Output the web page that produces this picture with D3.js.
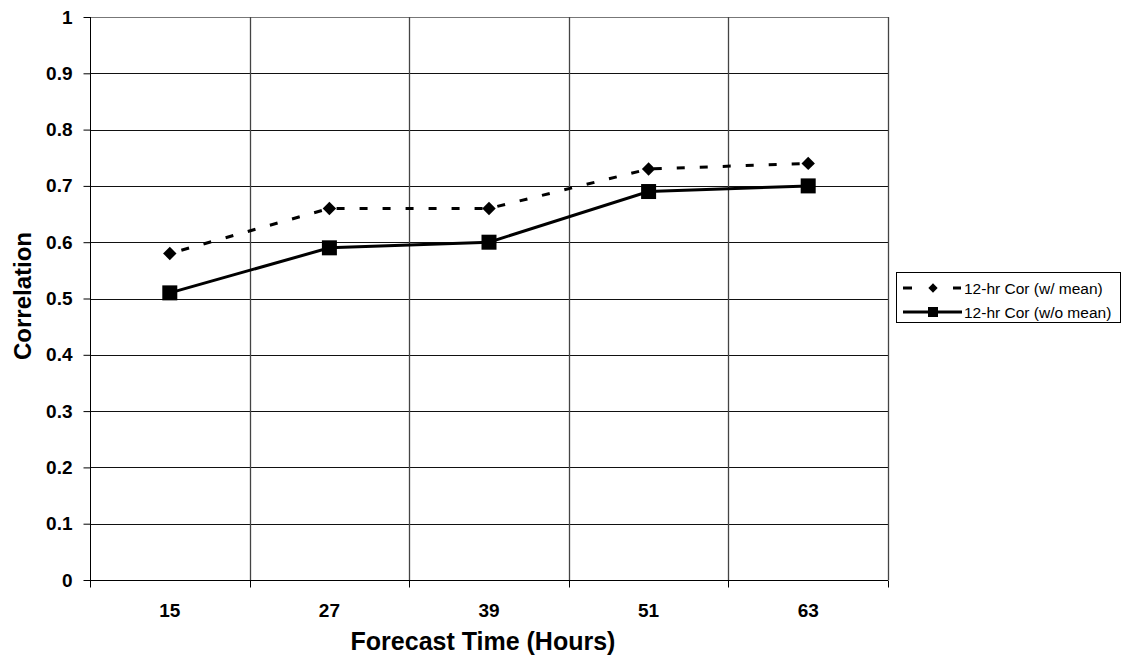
<!DOCTYPE html>
<html><head><meta charset="utf-8">
<script src="https://cdn.jsdelivr.net/npm/d3@7"></script>
<style>body{margin:0;background:#fff}svg{display:block}</style>
</head><body>
<svg id="c" width="1123" height="667"></svg>
<script>
const categories = ["15","27","39","51","63"];
const withMean = [0.58,0.66,0.66,0.73,0.74];
const withoutMean = [0.51,0.59,0.60,0.69,0.70];
const yTicks = [0,0.1,0.2,0.3,0.4,0.5,0.6,0.7,0.8,0.9,1];
const seriesNames = ["12-hr Cor (w/ mean)","12-hr Cor (w/o mean)"];

const svg = d3.select("#c");
const L=90, R=888, T=17, B=580;
const x = d3.scaleBand().domain(categories).range([L,R]).padding(0);
const y = d3.scaleLinear().domain([0,1]).range([B,T]);
const font = "Arial, 'Liberation Sans', sans-serif";

// horizontal gridlines
svg.append("g").selectAll("line").data(yTicks.filter(d=>d>0)).join("line")
  .attr("x1",L).attr("x2",R).attr("y1",d=>Math.round(y(d))+0.5).attr("y2",d=>Math.round(y(d))+0.5)
  .attr("stroke",d=>d===1?"#777":"#111").attr("stroke-width",1);
// vertical gridlines at band boundaries
const bounds = categories.map(c=>x(c)).concat([R]);
svg.append("g").selectAll("line").data(bounds.slice(1)).join("line")
  .attr("x1",d=>Math.round(d)+0.5).attr("x2",d=>Math.round(d)+0.5).attr("y1",T).attr("y2",B)
  .attr("stroke","#444").attr("stroke-width",1.3);

// y axis
const yAxis = svg.append("g").attr("transform",`translate(${L+0.5},0)`)
  .call(d3.axisLeft(y).tickValues(yTicks).tickSize(7).tickPadding(11).tickFormat(d=>String(+d.toFixed(1))));
yAxis.selectAll("text").attr("font-family",font).attr("font-weight","bold").attr("font-size",19).attr("fill","#000");
yAxis.selectAll("line").attr("stroke","#000");
yAxis.select(".domain").attr("stroke","#000").attr("d",`M0,${T}V${B+7}`);

// x axis
const xAxis = svg.append("g").attr("transform",`translate(0,${B+0.5})`)
  .call(d3.axisBottom(x).tickSize(0).tickPadding(23));
xAxis.selectAll("text").attr("font-family",font).attr("font-weight","bold").attr("font-size",19).attr("fill","#000");
xAxis.select(".domain").attr("stroke","#000").attr("d",`M${L},0H${R}`);
xAxis.append("g").selectAll("line").data(bounds).join("line")
  .attr("x1",d=>Math.round(d)+0.5).attr("x2",d=>Math.round(d)+0.5).attr("y1",0).attr("y2",7).attr("stroke","#000");

// titles
svg.append("text").attr("x",483).attr("y",650).attr("text-anchor","middle")
  .attr("font-family",font).attr("font-weight","bold").attr("font-size",25).text("Forecast Time (Hours)");
svg.append("text").attr("transform",`translate(31,296) rotate(-90)`).attr("text-anchor","middle")
  .attr("font-family",font).attr("font-weight","bold").attr("font-size",24).text("Correlation");

const cx = c => x(c)+x.bandwidth()/2;
const line = d3.line().x((d,i)=>cx(categories[i])).y(d=>y(d));

// series 1: dashed with diamonds
svg.append("path").datum(withMean).attr("d",line).attr("fill","none").attr("stroke","#000")
  .attr("stroke-width",3).attr("stroke-dasharray","8,15").attr("stroke-dashoffset",-12);
const diamond = d3.symbol().type(d3.symbolDiamond2).size(115);
svg.append("g").selectAll("path").data(withMean).join("path")
  .attr("transform",(d,i)=>`translate(${cx(categories[i])},${y(d)})`).attr("d",diamond).attr("fill","#000");

// series 2: solid with squares
svg.append("path").datum(withoutMean).attr("d",line).attr("fill","none").attr("stroke","#000").attr("stroke-width",3);
svg.append("g").selectAll("rect").data(withoutMean).join("rect")
  .attr("x",(d,i)=>cx(categories[i])-7.5).attr("y",d=>y(d)-7.5).attr("width",15).attr("height",15).attr("fill","#000");

// legend
const lg = svg.append("g");
lg.append("rect").attr("x",896.5).attr("y",272.5).attr("width",224).attr("height",50)
  .attr("fill","#fff").attr("stroke","#000");
const ly1=288, ly2=312;
lg.append("line").attr("x1",903).attr("x2",961).attr("y1",ly1).attr("y2",ly1).attr("stroke","#000").attr("stroke-width",3).attr("stroke-dasharray","9,41,8");
lg.append("path").attr("transform",`translate(933,${ly1})`).attr("d",d3.symbol().type(d3.symbolDiamond2).size(55)).attr("fill","#000");
lg.append("line").attr("x1",903).attr("x2",962).attr("y1",ly2).attr("y2",ly2).attr("stroke","#000").attr("stroke-width",3);
lg.append("rect").attr("x",928).attr("y",ly2-5).attr("width",10).attr("height",10).attr("fill","#000");
lg.selectAll("text").data(seriesNames).join("text")
  .attr("x",964).attr("y",(d,i)=>[ly1,ly2][i]+5.5).attr("font-family",font).attr("font-size",15.5).text(d=>d);
</script>
</body></html>
